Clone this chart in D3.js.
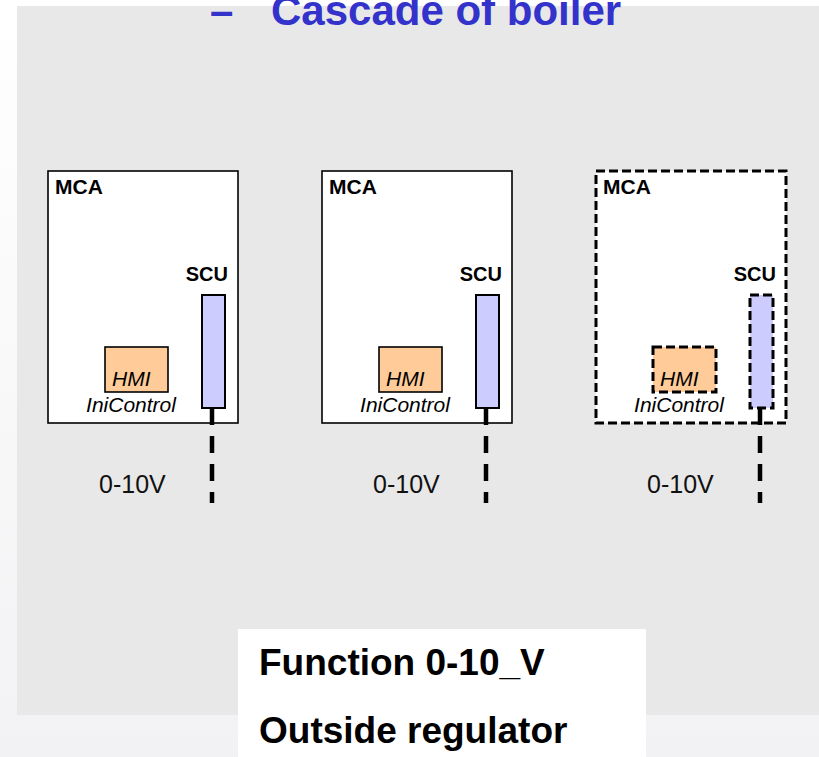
<!DOCTYPE html>
<html>
<head>
<meta charset="utf-8">
<script src="https://cdn.jsdelivr.net/npm/d3@7"></script>
<style>
  html, body { margin: 0; padding: 0; background: #fff; }
  svg { display: block; font-family: "Liberation Sans", Arial, sans-serif; }
</style>
</head>
<body>
<div id="chart"></div>
<script>
// three boiler units, the third one drawn dashed (optional)
var units = ["boiler1", "boiler2", "boiler3"];
var unitState = ["fitted", "fitted", "optional"];
var boxLabels = ["MCA", "MCA", "MCA"];
var scuLabels = ["SCU", "SCU", "SCU"];
var hmiLabels = ["HMI", "HMI", "HMI"];
var hmiNames = ["IniControl", "IniControl", "IniControl"];
var signalLabels = ["0-10V", "0-10V", "0-10V"];

var titleText = ["–", "Cascade of boiler"];
var footerLines = ["Function 0-10_V", "Outside regulator"];

(function () {
var W = 819, H = 757;

var svg = d3.select("#chart").append("svg").attr("width", W).attr("height", H);

var defs = svg.append("defs");
var grad = defs.append("linearGradient").attr("id", "bg").attr("x1", 0).attr("y1", 0).attr("x2", 0).attr("y2", 1);
grad.append("stop").attr("offset", "0%").attr("stop-color", "#ffffff");
grad.append("stop").attr("offset", "100%").attr("stop-color", "#f2f2f4");

svg.append("rect").attr("width", W).attr("height", H).attr("fill", "url(#bg)");
// grey slide panel
svg.append("rect").attr("x", 17).attr("y", 6).attr("width", W - 17).attr("height", 709).attr("fill", "#e8e8e8");

// title, clipped at the top like in the slide
var title = svg.append("g").attr("fill", "#3333cc").style("font-weight", "bold").style("font-size", "42px");
title.append("text").attr("x", 210).attr("y", 25).text(titleText[0]);
title.append("text").attr("x", 271).attr("y", 25).text(titleText[1]);

var x = d3.scalePoint().domain(units).range([48, 596]);
var boxTop = 171;

var rows = units.map(function(u, i) {
    return { unit: u, state: unitState[i], mca: boxLabels[i], scu: scuLabels[i],
             hmi: hmiLabels[i], name: hmiNames[i], signal: signalLabels[i] };
});

var g = svg.selectAll(".unit").data(rows).enter().append("g")
    .attr("class", "unit")
    .attr("transform", function(d) { return "translate(" + x(d.unit) + "," + boxTop + ")"; });

function dash(d) { return d.state === "optional" ? "9,4" : null; }
function sw(d) { return d.state === "optional" ? 3 : 1.6; }

g.append("rect").attr("x", 0).attr("y", 0).attr("width", 190).attr("height", 252)
    .attr("fill", "#fff").attr("stroke", "#000")
    .attr("stroke-width", sw).attr("stroke-dasharray", dash);

g.append("text").attr("x", 7).attr("y", 23)
    .style("font-weight", "bold").style("font-size", "21px").text(function(d) { return d.mca; });

g.append("text").attr("x", 180).attr("y", 110).attr("text-anchor", "end")
    .style("font-weight", "bold").style("font-size", "20px").text(function(d) { return d.scu; });

g.append("rect").attr("x", 154).attr("y", 124).attr("width", 23).attr("height", 113)
    .attr("fill", "#ccccff").attr("stroke", "#000")
    .attr("stroke-width", function(d) { return d.state === "optional" ? 3 : 2; })
    .attr("stroke-dasharray", dash);

g.append("rect").attr("x", 57).attr("y", 176).attr("width", 63).attr("height", 45)
    .attr("fill", "#ffcc99").attr("stroke", "#000")
    .attr("stroke-width", function(d) { return d.state === "optional" ? 3 : 1.6; })
    .attr("stroke-dasharray", dash);

g.append("text").attr("x", 64).attr("y", 215)
    .style("font-style", "italic").style("font-size", "21px").text(function(d) { return d.hmi; });

g.append("text").attr("x", 83).attr("y", 241).attr("text-anchor", "middle")
    .style("font-style", "italic").style("font-size", "21px").text(function(d) { return d.name; });

// signal wire out of the SCU
g.append("line").attr("x1", 164).attr("x2", 164).attr("y1", 237).attr("y2", 332)
    .attr("stroke", "#000").attr("stroke-width", 4.5).attr("stroke-dasharray", "17,11");

g.append("text").attr("x", 51).attr("y", 322)
    .style("font-size", "25px").attr("fill", "#111").text(function(d) { return d.signal; });

// footer box
svg.append("rect").attr("x", 238).attr("y", 629).attr("width", 408).attr("height", 130).attr("fill", "#fff");
svg.selectAll(".foot").data(footerLines).enter().append("text")
    .attr("class", "foot")
    .attr("x", 259)
    .attr("y", function(d, i) { return 675 + i * 68; })
    .style("font-weight", "bold").style("font-size", "37px")
    .text(function(d) { return d; });
})();
</script>
</body>
</html>
